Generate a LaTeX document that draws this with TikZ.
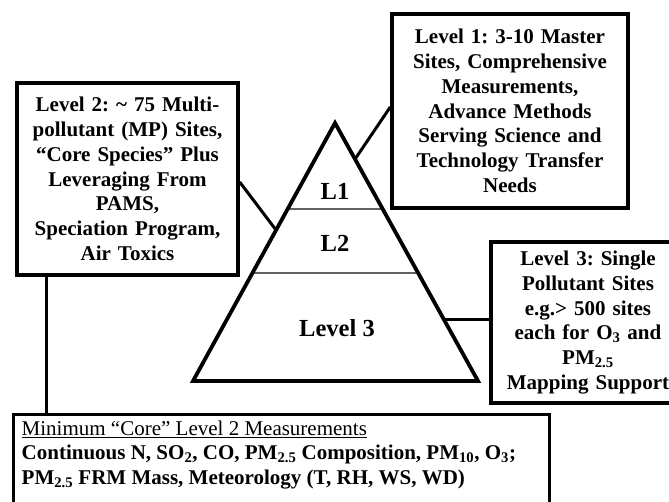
\documentclass[tikz,border=0pt]{standalone}
\usepackage{fontspec}
\setmainfont{Liberation Serif}
\usetikzlibrary{calc}
\frenchspacing
\begin{document}
\begin{tikzpicture}[x=1pt,y=-1pt,
  box/.style={draw, line width=3.4pt, align=center, font=\fontsize{21}{24.8}\selectfont\bfseries, inner sep=0pt},
  conn/.style={line width=3pt},
  tri/.style={line width=3.8pt, line join=miter},
  divider/.style={line width=2.8pt, draw=black!62},
  lvl/.style={font=\fontsize{24.5}{28}\selectfont\bfseries}]
\useasboundingbox (0,0) rectangle (669,501);
\clip (0,0) rectangle (669,501);
\fill[white] (0,0) rectangle (669,501);
% boxes
\node[box, minimum width=221, minimum height=192, text width=215] (l2) at (127.5,179)
  {Level 2: \textasciitilde{} 75 Multi-\\pollutant (MP) Sites,\\“Core Species” Plus\\Leveraging From\\PAMS,\\Speciation Program,\\Air Toxics};
\node[box, minimum width=236, minimum height=194, text width=230] (l1) at (510,111)
  {Level 1: 3-10 Master\\Sites, Comprehensive\\Measurements,\\Advance Methods\\Serving Science and\\Technology Transfer\\Needs};
\node[box, minimum width=194, minimum height=161, text width=190] (l3) at (588,322.5)
  {Level 3: Single\\Pollutant Sites\\e.g.> 500 sites\\each for O\textsubscript{3} and\\PM\textsubscript{2.5}\\Mapping Support};
\node[draw, line width=3.4pt, anchor=north west, inner xsep=8pt, inner ysep=6pt,
  font=\fontsize{21}{24.5}\selectfont] (core) at (12,413)
  {\parbox[t][100pt][t]{520pt}{\raggedright
   \underline{Minimum “Core” Level 2 Measurements}\\
   \textbf{Continuous N, SO\textsubscript{2}, CO, PM\textsubscript{2.5} Composition, PM\textsubscript{10}, O\textsubscript{3};}\\
   \textbf{PM\textsubscript{2.5} FRM Mass, Meteorology (T, RH, WS, WD)}}};
% pyramid
\coordinate (apex) at (335,123);
\coordinate (bl) at (193,381);
\coordinate (br) at (478,381);
\draw[divider] ($(apex)!0.333!(bl)$) -- ($(apex)!0.333!(br)$);
\draw[divider] ($(apex)!0.581!(bl)$) -- ($(apex)!0.581!(br)$);
\draw[tri] (apex) -- (bl) -- (br) -- cycle;
\node[lvl] (t1) at (335,191) {L1};
\node[lvl] (t2) at (335,243) {L2};
\node[lvl] (t3) at (337,328) {Level 3};
% connectors
\coordinate (p2) at ($(apex)!0.415!(bl)$);
\coordinate (p1) at ($(apex)!0.14!(br)$);
\coordinate (p3) at ($(apex)!0.76!(br)$);
\draw[conn] (l2.east |- 0,182) -- (p2);
\draw[conn] (l1.west |- 0,107) -- (p1);
\draw[conn] (p3) -- (l3.west |- p3);
\draw[conn] (46,0 |- l2.south) -- (46,0 |- core.north);
\end{tikzpicture}
\end{document}
